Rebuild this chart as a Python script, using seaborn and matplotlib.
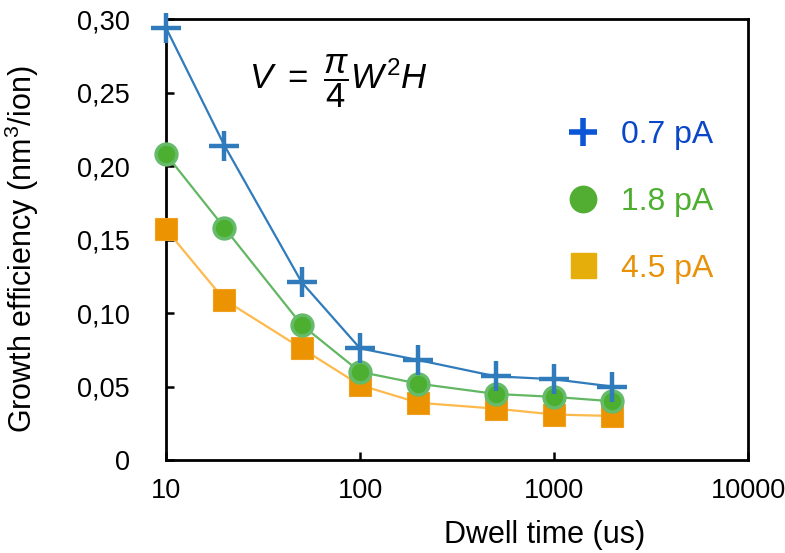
import matplotlib
matplotlib.use("Agg")
import matplotlib.pyplot as plt
import pandas as pd
import seaborn as sns
from matplotlib.lines import Line2D
from matplotlib.ticker import FixedLocator, FuncFormatter

dwell = [10, 20, 50, 100, 200, 500, 1000, 2000]
eff_07 = [0.294, 0.214, 0.121, 0.076, 0.068, 0.057, 0.055, 0.050]
eff_18 = [0.208, 0.158, 0.092, 0.060, 0.052, 0.045, 0.043, 0.040]
eff_45 = [0.157, 0.109, 0.076, 0.051, 0.039, 0.035, 0.031, 0.030]
labels = ["0.7 pA", "1.8 pA", "4.5 pA"]

sns.set_theme(style="white")
plt.rcParams["font.family"] = ["Liberation Sans", "DejaVu Sans"]
plt.rcParams["mathtext.fontset"] = "custom"
plt.rcParams["mathtext.rm"] = "Liberation Sans"
plt.rcParams["mathtext.it"] = "Liberation Sans:italic"

df = pd.DataFrame({
    "dwell": dwell * 3,
    "eff": eff_07 + eff_18 + eff_45,
    "current": [labels[0]] * 8 + [labels[1]] * 8 + [labels[2]] * 8,
})

fig = plt.figure(figsize=(7.85, 5.53), dpi=100)
ax = fig.add_axes([0.2115, 0.168, 0.7415, 0.7975])

# line colour, marker face, marker edge, marker, size, edge width
styles = {
    "0.7 pA": ("#2f7bbb", "#2f7bbb", "#2f7bbb", "+", 21, 3.2),
    "1.8 pA": ("#62b763", "#4caf2f", "#66bb6a", "o", 15, 2.5),
    "4.5 pA": ("#fdb94c", "#eb9300", "#f0a020", "s", 16, 0.8),
}
for lab in ["4.5 pA", "1.8 pA", "0.7 pA"]:
    lc, fc, ec, m, ms, mew = styles[lab]
    sns.lineplot(data=df[df["current"] == lab], x="dwell", y="eff", ax=ax,
                 color=lc, lw=1.6, marker=m, markersize=ms,
                 markerfacecolor=fc, markeredgecolor=ec, markeredgewidth=mew,
                 legend=False, clip_on=False, zorder=3)

ax.set_xscale("log")
ax.set_xlim(10, 10000)
ax.set_ylim(0, 0.30)
ax.xaxis.set_major_locator(FixedLocator([10, 100, 1000, 10000]))
ax.xaxis.set_minor_locator(FixedLocator([]))
ax.xaxis.set_major_formatter(FuncFormatter(lambda v, p: f"{int(v)}"))
ax.yaxis.set_major_locator(FixedLocator([0, 0.05, 0.10, 0.15, 0.20, 0.25, 0.30]))
ax.yaxis.set_major_formatter(FuncFormatter(
    lambda v, p: "0" if abs(v) < 1e-9 else f"{v:.2f}".replace(".", ",")))
ax.tick_params(axis="both", direction="in", length=6, width=1.8,
               labelsize=19.5, colors="black", bottom=True, left=True)
ax.tick_params(axis="x", pad=13)
ax.tick_params(axis="y", pad=26)
for s in ax.spines.values():
    s.set_color("black")
    s.set_linewidth(2)

ax.set_xlabel("Dwell time (us)", fontsize=22, color="black")
ax.xaxis.set_label_coords(0.65, -0.135)
ax.set_ylabel("Growth efficiency (nm$^3$/ion)", fontsize=22, color="black")
ax.yaxis.set_label_coords(-0.215, 0.478)

ax.text(0.143, 0.86, r"$V\ =\ \dfrac{\pi}{4}W^{2}H$", transform=ax.transAxes,
        fontsize=25, color="black", va="center")

handles = [
    Line2D([], [], ls="none", marker="+", ms=20, mew=4, color="#0b56d6"),
    Line2D([], [], ls="none", marker="o", ms=19, color="#52ae32"),
    Line2D([], [], ls="none", marker="s", ms=18, color="#e5ae0a"),
]
ax.legend(handles, labels, loc="upper left", bbox_to_anchor=(0.667, 0.80),
          frameon=False, fontsize=23, labelspacing=1.15, handletextpad=0.68,
          handlelength=1.0, borderaxespad=0,
          labelcolor=["#0a47c8", "#4dae2f", "#e8920a"])

fig.savefig("out.png", dpi=100)
